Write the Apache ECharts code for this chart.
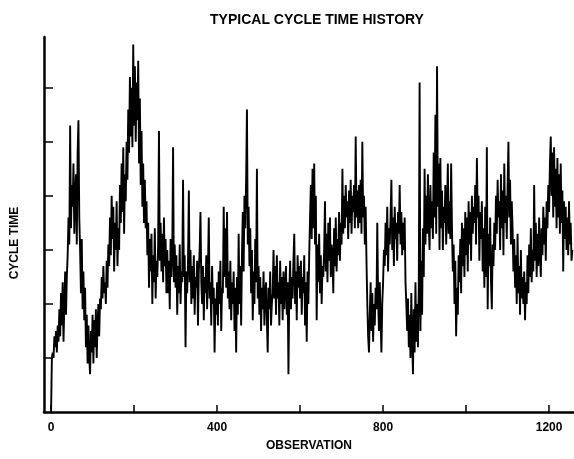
<!DOCTYPE html>
<html>
<head>
<meta charset="utf-8">
<script src="https://cdn.jsdelivr.net/npm/echarts@6/dist/echarts.min.js"></script>
<style>
html,body{margin:0;padding:0;background:#fff;}
#chart{width:574px;height:459px;}
</style>
</head>
<body>
<div id="chart"></div>
<script>
// ---- data ----
const titleText = "TYPICAL CYCLE TIME HISTORY";
const xName = "OBSERVATION";
const yName = "CYCLE TIME";
const obsStep = 2; // one value every 2 observations
const xTicks = [0, 200, 400, 600, 800, 1000, 1200];
const xTickLabels = [0, 400, 800, 1200];
const yTicks = [1, 2, 3, 4, 5, 6];
const cycleTime = [
  0.0, 1.0, 1.1, 1.0, 1.4, 1.2, 1.5, 1.1, 1.6, 1.3,
  1.9, 1.4, 2.2, 1.6, 2.4, 1.3, 2.0, 2.6, 1.8, 2.5,
  2.9, 3.6, 3.1, 5.3, 3.4, 4.2, 3.8, 4.6, 3.3, 4.0,
  4.4, 3.1, 4.8, 5.4, 3.6, 3.0, 2.2, 3.2, 1.9, 2.6,
  1.7, 2.3, 1.2, 1.8, 0.9, 1.6, 1.0, 0.7, 1.5, 1.1,
  1.8, 0.9, 1.7, 1.2, 1.9, 1.0, 1.6, 2.0, 1.4, 2.1,
  1.9, 2.5, 2.1, 2.7, 2.2, 2.4, 2.0, 2.8, 2.3, 3.1,
  2.7, 3.6, 2.9, 4.0, 3.2, 3.8, 2.6, 3.5, 3.0, 3.9,
  2.7, 3.4, 3.0, 4.2, 3.5, 4.6, 3.7, 4.9, 3.3, 4.4,
  3.9, 5.0, 4.3, 5.6, 4.8, 6.2, 5.1, 6.0, 4.9, 6.8,
  5.3, 6.4, 5.0, 6.1, 5.4, 6.5, 4.6, 5.8, 4.2, 5.2,
  3.8, 4.6, 3.5, 4.3, 3.4, 3.9, 2.9, 3.5, 2.3, 3.2,
  2.6, 3.3, 2.0, 2.9, 2.4, 3.4, 2.1, 2.8, 2.5, 3.1,
  5.2, 2.8, 3.5, 2.6, 3.3, 2.4, 3.6, 2.7, 3.2, 2.2,
  3.0, 2.2, 2.8, 1.9, 3.2, 2.5, 2.9, 4.9, 2.4, 3.1,
  2.3, 2.9, 1.8, 2.7, 2.2, 3.1, 2.0, 2.6, 2.4, 4.3,
  2.5, 2.9, 1.2, 2.6, 2.2, 2.8, 4.1, 2.4, 3.0, 2.0,
  2.7, 2.1, 2.9, 1.8, 2.5, 2.3, 2.8, 1.6, 2.6, 3.0,
  3.7, 2.4, 2.0, 2.7, 1.7, 2.5, 2.2, 2.9, 1.9, 2.6,
  3.6, 2.1, 2.4, 1.6, 2.7, 2.0, 2.3, 1.1, 2.1, 1.8,
  2.4, 1.6, 2.6, 2.0, 2.8, 1.5, 2.3, 2.2, 3.8, 2.5,
  3.4, 2.3, 3.7, 2.1, 2.6, 1.9, 2.8, 1.7, 2.4, 2.0,
  2.6, 1.5, 2.3, 1.1, 2.5, 1.8, 3.3, 2.0, 2.7, 1.6,
  2.9, 3.7, 2.6, 4.0, 3.4, 4.3, 5.6, 3.1, 3.8, 2.7,
  3.4, 2.2, 3.0, 1.7, 2.6, 2.0, 3.2, 2.4, 4.5, 2.1,
  2.7, 1.8, 2.5, 1.5, 2.3, 1.9, 2.6, 1.6, 2.2, 2.4,
  1.7, 1.1, 2.3, 1.9, 2.6, 1.6, 2.0, 2.2, 3.0, 2.1,
  2.7, 1.8, 2.9, 2.1, 2.4, 1.6, 2.8, 2.0, 2.5, 1.7,
  2.6, 1.9, 2.3, 2.7, 1.8, 2.4, 0.7, 2.2, 2.8, 1.9,
  2.5, 2.1, 2.8, 3.3, 2.0, 2.6, 1.7, 2.9, 2.3, 2.7,
  2.1, 2.8, 1.8, 2.5, 2.2, 2.9, 1.6, 2.4, 1.3, 2.6,
  2.0, 2.9, 3.6, 4.2, 3.2, 4.5, 3.4, 4.6, 3.1, 4.0,
  1.7, 3.1, 2.4, 3.3, 2.2, 2.9, 2.0, 2.7, 2.5, 3.0,
  3.9, 2.6, 3.3, 2.4, 3.5, 2.8, 3.6, 2.5, 3.1, 2.9,
  2.2, 3.4, 2.7, 3.6, 2.6, 3.2, 2.9, 3.7, 2.8, 3.5,
  3.1, 4.5, 3.3, 4.0, 3.4, 4.2, 3.6, 3.9, 3.2, 4.1,
  3.5, 4.3, 3.3, 4.0, 3.7, 4.2, 3.4, 5.1, 3.6, 4.1,
  3.4, 4.2, 3.5, 4.3, 3.3, 5.0, 3.6, 4.0, 3.1, 3.8,
  2.8, 2.0, 1.4, 1.1, 1.8, 2.4, 1.5, 2.2, 1.3, 2.0,
  1.6, 2.3, 1.9, 3.5, 2.1, 1.5, 2.4, 1.7, 1.1, 2.0,
  2.4, 3.0, 2.7, 3.5, 2.9, 3.8, 2.6, 3.4, 3.1, 3.6,
  4.3, 3.0, 3.6, 2.7, 3.8, 3.2, 3.5, 2.8, 3.7, 3.3,
  4.2, 3.1, 3.7, 2.9, 3.5, 3.0, 3.6, 2.4, 2.0, 1.5,
  2.1, 1.2, 1.8, 1.0, 2.2, 1.4, 0.7, 1.9, 1.1, 2.4,
  1.3, 2.0, 1.2, 2.3, 6.1, 1.5, 2.8, 1.8, 3.4, 2.5,
  4.5, 3.1, 4.0, 3.3, 4.4, 3.5, 3.0, 4.2, 3.4, 3.9,
  3.2, 4.8, 3.6, 5.5, 3.3, 6.4, 3.8, 4.6, 3.0, 4.7,
  3.4, 4.1, 3.0, 3.8, 3.5, 4.2, 3.1, 3.7, 4.6, 3.3,
  3.9, 3.2, 4.6, 3.4, 2.6, 3.1, 2.0, 2.8, 1.4, 2.3,
  1.8, 2.9, 2.4, 3.2, 2.2, 3.5, 2.7, 3.4, 2.5, 3.7,
  2.9, 3.6, 2.6, 3.9, 3.1, 3.7, 2.8, 4.0, 3.3, 3.8,
  3.5, 4.2, 3.1, 4.7, 3.6, 4.0, 2.8, 3.7, 3.2, 3.9,
  2.6, 3.4, 2.3, 3.8, 2.5, 4.9, 1.9, 3.3, 2.7, 3.6,
  2.4, 1.9, 3.1, 2.7, 3.5, 3.0, 4.0, 3.3, 4.3, 3.6,
  3.9, 3.0, 4.4, 3.4, 4.1, 2.9, 4.6, 3.5, 4.0, 3.2,
  4.2, 5.0, 3.6, 4.3, 3.1, 3.9, 3.4, 2.6, 3.2, 2.3,
  2.9, 2.0, 3.3, 2.2, 2.7, 1.8, 3.0, 2.1, 2.5, 2.0,
  2.6, 1.7, 2.4, 2.0, 2.9, 2.2, 3.1, 2.5, 3.4, 2.4,
  3.0, 2.6, 4.2, 2.8, 3.5, 2.5, 3.3, 2.7, 3.6, 3.0,
  2.5, 3.4, 2.9, 3.8, 3.1, 3.6, 2.8, 3.9, 3.4, 4.2,
  3.7, 4.6, 5.1, 4.0, 4.8, 3.6, 4.9, 3.8, 4.5, 3.4,
  4.7, 3.6, 4.4, 3.3, 4.6, 3.5, 4.1, 2.6, 3.9, 3.2,
  3.8, 3.0, 3.6, 2.9, 3.9, 3.1, 3.5, 2.8, 3.0
];

// ---- chart ----
const seriesData = cycleTime.map((v, i) => [i * obsStep, v]);
const font = '"Liberation Sans", Arial, sans-serif';
const chart = echarts.init(document.getElementById('chart'), null, {renderer: 'canvas'});
chart.setOption({
  animation: false,
  backgroundColor: '#fff',
  title: {
    text: titleText,
    left: 312, top: 8,
    textAlign: 'center',
    textStyle: {fontFamily: font, fontWeight: 'bold', fontSize: 14, color: '#000'}
  },
  grid: {left: 44, right: 0, top: 37, bottom: 47, containLabel: false},
  xAxis: {
    type: 'value', min: -17, max: 1260,
    name: xName, nameLocation: 'middle', nameGap: 28,
    nameTextStyle: {fontFamily: font, fontWeight: 'bold', fontSize: 12, color: '#000'},
    axisLine: {show: true, onZero: false, lineStyle: {color: '#000', width: 2.5}},
    axisTick: {show: true, inside: true, length: 7, customValues: xTicks, lineStyle: {color: '#000', width: 1.5}},
    axisLabel: {show: true, customValues: xTickLabels, margin: 10, formatter: (v) => String(v),
      fontFamily: font, fontWeight: 'bold', fontSize: 12, color: '#000'},
    splitLine: {show: false}
  },
  yAxis: {
    type: 'value', min: 0, max: 6.94,
    axisLine: {show: true, onZero: false, lineStyle: {color: '#000', width: 2.5}},
    axisTick: {show: true, inside: true, length: 9, customValues: yTicks, lineStyle: {color: '#000', width: 1.5}},
    axisLabel: {show: false},
    splitLine: {show: false}
  },
  graphic: [{
    type: 'text',
    x: 15, y: 243,
    rotation: Math.PI / 2,
    style: {text: yName, fill: '#000', font: 'bold 12px ' + font, textAlign: 'center', textVerticalAlign: 'middle'}
  }],
  series: [{
    type: 'line',
    data: seriesData,
    showSymbol: false,
    symbol: 'none',
    lineStyle: {color: '#000', width: 1.9},
    z: 3
  }]
});
</script>
</body>
</html>
